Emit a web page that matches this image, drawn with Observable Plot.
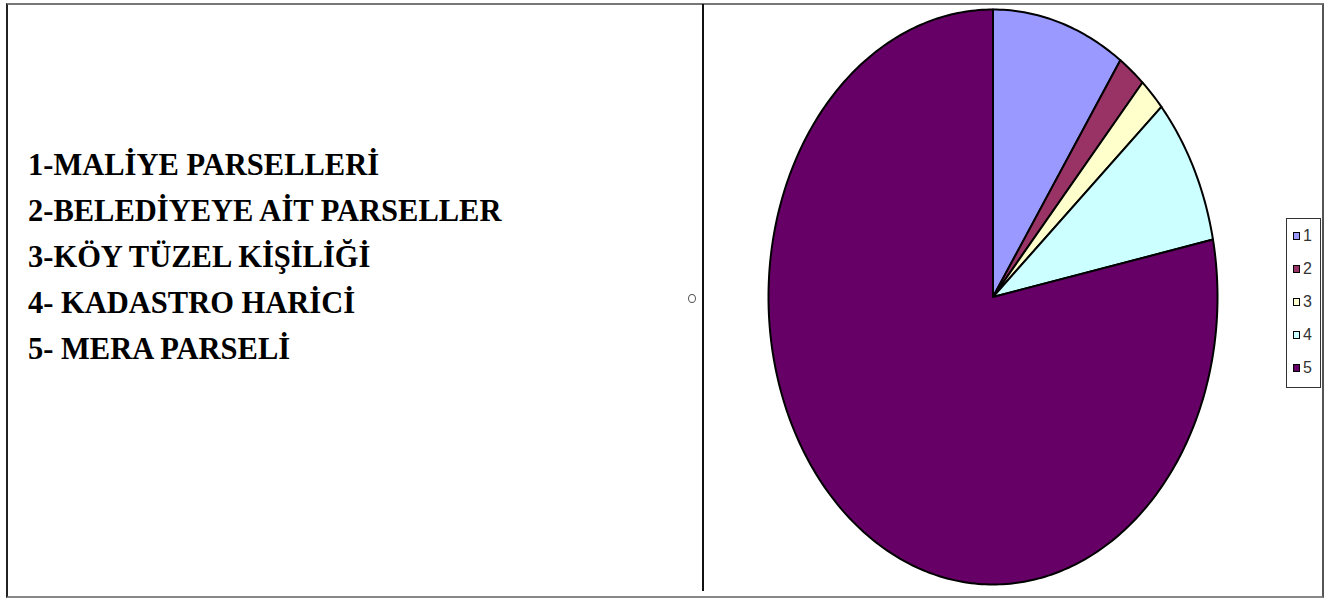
<!DOCTYPE html>
<html>
<head>
<meta charset="utf-8">
<script src="https://cdn.jsdelivr.net/npm/d3@7"></script>
<script src="https://cdn.jsdelivr.net/npm/@observablehq/plot@0.6"></script>
<style>
  html, body { margin: 0; padding: 0; background: #fff; }
  #wrap { position: relative; width: 1329px; height: 598px; overflow: hidden; background: #fff; }
  #frame { position: absolute; left: 6px; top: 3px; width: 1314px; height: 591px;
           border-top: 2px solid #777; border-bottom: 2px solid #888;
           border-left: 2px solid #222; border-right: 2px solid #555; }
  #divider { position: absolute; left: 702px; top: 4px; width: 2px; height: 587px; background: #111; }
  #dot { position: absolute; left: 688px; top: 294px; width: 6px; height: 7px;
         border: 1.3px solid #555; border-radius: 50%; }
  #list { position: absolute; left: 28px; top: 142px; font-family: "Liberation Serif", "Times New Roman", serif;
          font-weight: bold; font-size: 30.5px; line-height: 46px; color: #000; white-space: nowrap; }
  #legend { position: absolute; left: 1286px; top: 218px; width: 33px; height: 168px;
            border: 1px solid #333; background: #fff; }
  .li { position: absolute; left: 6px; font-family: "Liberation Sans", Arial, sans-serif; font-size: 16px; color: #333; }
  .sw { position: absolute; left: 0; top: 4px; width: 5px; height: 6px; border: 1.5px solid #000; }
  .lt { position: absolute; left: 10px; top: -1px; }
  #plot { position: absolute; left: 0; top: 0; }
</style>
</head>
<body>
<div id="wrap">
  <div id="frame"></div>
  <div id="divider"></div>
  <div id="dot"></div>
  <div id="list"></div>
  <div id="plot"></div>
  <div id="legend"></div>
</div>
<script>
// Data
const categories = ["1", "2", "3", "4", "5"];
const names = ["1-MALİYE PARSELLERİ", "2-BELEDİYEYE AİT PARSELLER", "3-KÖY TÜZEL KİŞİLİĞİ", "4- KADASTRO HARİCİ", "5- MERA PARSELİ"];
const values = [9.6, 2.0, 1.9, 8.3, 78.2];
const colors = ["#9999ff", "#993366", "#ffffcc", "#ccffff", "#660066"];

// Left list
const list = document.getElementById("list");
names.forEach(n => { const d = document.createElement("div"); d.textContent = n; list.appendChild(d); });

// Legend
const legend = document.getElementById("legend");
categories.forEach((c, i) => {
  const row = document.createElement("div");
  row.className = "li";
  row.style.top = (9 + i * 33) + "px";
  const sw = document.createElement("div"); sw.className = "sw"; sw.style.background = colors[i];
  const t = document.createElement("div"); t.className = "lt"; t.textContent = c;
  row.appendChild(sw); row.appendChild(t);
  legend.appendChild(row);
});

// Pie slices as closed polygons in unit coordinates
const arcs = d3.pie().sort(null).startAngle(0).endAngle(2 * Math.PI)(values);
const pts = [];
arcs.forEach((a, i) => {
  const cat = categories[i];
  pts.push({cat, x: 0, y: 0});
  const n = Math.max(4, Math.ceil((a.endAngle - a.startAngle) / (2 * Math.PI) * 400));
  for (let k = 0; k <= n; k++) {
    const t = a.startAngle + (a.endAngle - a.startAngle) * k / n;
    pts.push({cat, x: Math.sin(t), y: Math.cos(t)});
  }
  pts.push({cat, x: 0, y: 0});
});

const chart = Plot.plot({
  width: 1329,
  height: 598,
  margin: 0,
  style: {background: "transparent", overflow: "visible"},
  x: {domain: [-1, 1], range: [768, 1217], axis: null},
  y: {domain: [-1, 1], range: [584, 9], axis: null},
  color: {domain: categories, range: colors},
  marks: [
    Plot.line(pts, {x: "x", y: "y", z: "cat", fill: "cat", stroke: "#000", strokeWidth: 2, strokeLinejoin: "round"})
  ]
});
document.getElementById("plot").appendChild(chart);
</script>
</body>
</html>
